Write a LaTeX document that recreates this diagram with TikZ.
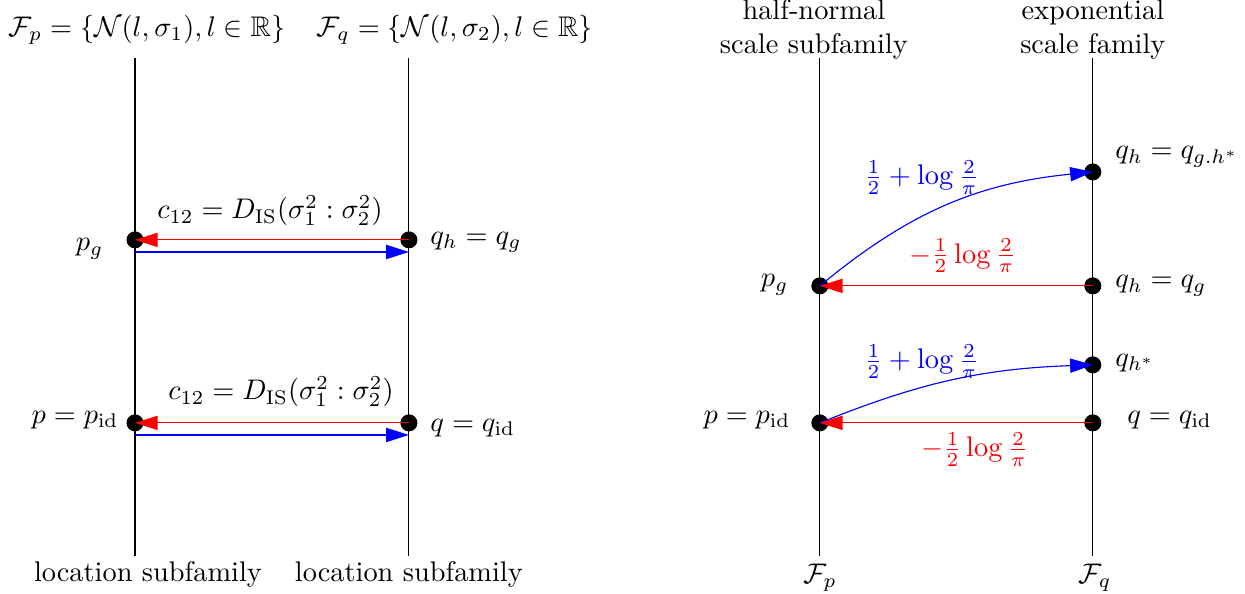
\documentclass[tikz,border=0pt]{standalone}
\usepackage{amsmath, amssymb}
\usepackage{tikz}
\usetikzlibrary{calc, positioning, arrows.meta}

\begin{document}
\begin{tikzpicture}[
    dot/.style={circle, fill=black, inner sep=0pt, minimum size=6pt},
    ptlabel/.style={inner sep=0pt},
    redarr/.style={red, -{Triangle[length=8pt, width=5pt]}},
    bluearr/.style={blue, -{Triangle[length=8pt, width=5pt]}}]
  \useasboundingbox (0, 0) rectangle (15.43, 7.36);

  % left panel: location subfamilies
  \draw (1.673, 0.471) -- (1.673, 6.642);
  \draw (5.068, 0.471) -- (5.068, 6.642);
  \node at (1.822, 6.989) {$\mathcal{F}_p=\{\mathcal{N}(l,\sigma_1), l\in\mathbb{R}\}$};
  \node at (5.638, 6.989) {$\mathcal{F}_q=\{\mathcal{N}(l,\sigma_2), l\in\mathbb{R}\}$};
  \node at (1.834, 0.235) {location subfamily};
  \node at (5.068, 0.235) {location subfamily};

  \node[dot] (pg) at (1.673, 4.387) {};
  \node[dot] (qg) at (5.068, 4.387) {};
  \node[dot] (pid) at (1.673, 2.119) {};
  \node[dot] (qid) at (5.068, 2.119) {};
  \node[ptlabel, anchor=east] at (1.289, 4.275) {$p_g$};
  \node[ptlabel, anchor=west] at (5.328, 4.361) {$q_h=q_g$};
  \node[ptlabel, anchor=east] at (1.475, 2.156) {$p=p_{\mathrm{id}}$};
  \node[ptlabel, anchor=west] at (5.328, 2.057) {$q=q_{\mathrm{id}}$};

  \draw[redarr] (qg.center) -- (pg.center);
  \draw[bluearr] ($(pg.center)+(0,-0.15)$) -- ($(qg.center)+(0,-0.15)$);
  \draw[redarr] (qid.center) -- (pid.center);
  \draw[bluearr] ($(pid.center)+(0,-0.15)$) -- ($(qid.center)+(0,-0.15)$);
  \node at (3.346, 4.746) {$c_{12}=D_{\mathrm{IS}}(\sigma_1^2:\sigma_2^2)$};
  \node at (3.482, 2.503) {$c_{12}=D_{\mathrm{IS}}(\sigma_1^2:\sigma_2^2)$};

  % right panel: scale families
  \draw (10.161, 0.471) -- (10.161, 6.642);
  \draw (13.544, 0.471) -- (13.544, 6.642);
  \node[align=center] at (10.087, 6.998) {half-normal\\scale subfamily};
  \node[align=center] at (13.544, 6.998) {exponential\\scale family};
  \node at (10.161, 0.198) {$\mathcal{F}_p$};
  \node at (13.569, 0.198) {$\mathcal{F}_q$};

  \node[dot] (rpg) at (10.161, 3.817) {};
  \node[dot] (rpid) at (10.161, 2.119) {};
  \node[dot] (rqgh) at (13.544, 5.229) {};
  \node[dot] (rqg) at (13.544, 3.817) {};
  \node[dot] (rqhs) at (13.544, 2.838) {};
  \node[dot] (rqid) at (13.544, 2.119) {};
  \node[ptlabel, anchor=east] at (9.777, 3.829) {$p_g$};
  \node[ptlabel, anchor=east] at (9.802, 2.156) {$p=p_{\mathrm{id}}$};
  \node[ptlabel, anchor=west] at (13.817, 5.415) {$q_h=q_{g.h^*}$};
  \node[ptlabel, anchor=west] at (13.817, 3.817) {$q_h=q_g$};
  \node[ptlabel, anchor=west] at (13.817, 2.862) {$q_{h^*}$};
  \node[ptlabel, anchor=west] at (13.965, 2.156) {$q=q_{\mathrm{id}}$};

  \draw[bluearr] (rpg.center) to[bend left=17] (rqgh.center);
  \draw[redarr] (rqg.center) -- (rpg.center);
  \draw[bluearr] (rpid.center) to[bend left=10] (rqhs.center);
  \draw[redarr] (rqid.center) -- (rpid.center);
  \node[text=blue] at (11.425, 5.155) {$\frac{1}{2}+\log\frac{2}{\pi}$};
  \node[text=red] at (11.933, 4.188) {$-\frac{1}{2}\log\frac{2}{\pi}$};
  \node[text=blue] at (11.425, 2.875) {$\frac{1}{2}+\log\frac{2}{\pi}$};
  \node[text=red] at (12.082, 1.784) {$-\frac{1}{2}\log\frac{2}{\pi}$};
\end{tikzpicture}
\end{document}
